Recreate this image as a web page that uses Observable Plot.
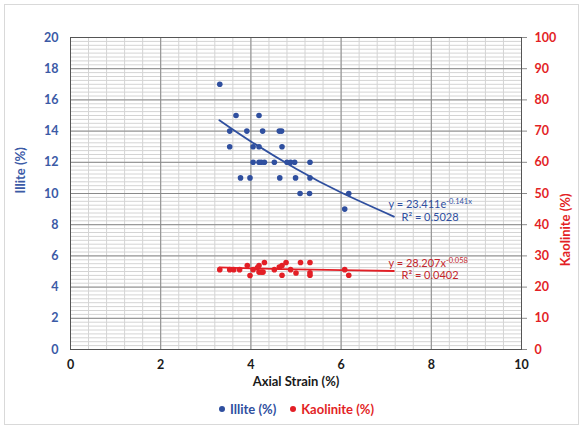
<!DOCTYPE html>
<html><head><meta charset="utf-8">
<script src="https://cdn.jsdelivr.net/npm/d3@7"></script>
<script src="https://cdn.jsdelivr.net/npm/@observablehq/plot@0.6"></script>
<style>
body{margin:0;background:#fff;font-family:Lato,"Open Sans",sans-serif;}
#wrap{position:relative;width:585px;height:430px;overflow:hidden;background:#fff;}
#border{position:absolute;left:4px;top:4px;width:575px;height:421px;border:1px solid #d9d9d9;box-sizing:border-box;}
#chart{position:absolute;left:0;top:0;}
#legend{position:absolute;top:401px;left:219px;font-size:13px;font-weight:bold;white-space:nowrap;}
#legend span{margin-right:14px;}
#legend .dot{display:inline-block;width:6px;height:6px;border-radius:50%;margin-right:5px;vertical-align:2px;}
</style>
</head><body>
<div id="wrap"><div id="border"></div><div id="chart"></div>
<div id="legend"><span style="color:#2f4f9f"><i class="dot" style="background:#2f4f9f"></i>Illite (%)</span><span style="color:#e31f26"><i class="dot" style="background:#e31f26"></i>Kaolinite (%)</span></div>
</div>
<script>
// Illite data (left axis)
const illiteX = [3.31,3.67,4.18,3.53,3.91,4.26,4.63,4.68,3.53,4.05,4.18,4.69,4.05,4.18,4.23,4.30,4.52,4.80,4.88,4.97,5.31,3.77,3.98,4.64,4.99,5.31,5.09,5.30,6.17,6.08];
const illiteY = [17,15,15,14,14,14,14,14,13,13,13,13,12,12,12,12,12,12,12,12,12,11,11,11,11,11,10,10,10,9];
// Kaolinite data (right axis, 0-100)
const kaoX = [3.31,3.53,3.62,3.75,3.92,3.98,4.05,4.14,4.18,4.18,4.23,4.27,4.30,4.52,4.63,4.69,4.69,4.78,4.88,5.00,5.10,5.31,5.31,5.31,6.08,6.17];
const kaoY = [25.6,25.6,25.6,25.6,26.9,23.7,25.6,26.2,26.9,24.8,24.8,24.8,27.9,25.6,26.4,26.9,23.8,27.9,25.6,24.5,27.9,27.9,24.6,23.8,25.6,23.8];
// Trendlines
const trendX = [3.3, 4, 5, 6, 7.17];
const illiteTrend = [14.7, 13.34, 11.59, 10.06, 8.52];
const kaoTrend = [26.32, 26.03, 25.69, 25.42, 25.16];
// Ticks
const xTicks = [0,2,4,6,8,10];
const yTicks = [0,2,4,6,8,10,12,14,16,18,20];
const kaoTickLabels = [0,10,20,30,40,50,60,70,80,90,100];

const xMinor = d3.range(0,26).map(i => i*0.4);
const yMinor = d3.range(0,81).map(i => i*0.25);
const ratio = 5; // right axis 100 <-> left 20

const blue = "#2f4f9f", red = "#e31f26";
const illite = illiteX.map((x,i) => ({x, y: illiteY[i]}));
const kao = kaoX.map((x,i) => ({x, y: kaoY[i]/ratio}));
const it = trendX.map((x,i) => ({x, y: illiteTrend[i]}));
const kt = trendX.map((x,i) => ({x, y: kaoTrend[i]/ratio}));

const plot = Plot.plot({
  width: 585, height: 395,
  marginTop: 37, marginLeft: 70, marginRight: 64, marginBottom: 46,
  x: {domain: [0,10]},
  y: {domain: [0,20]},
  style: {fontFamily: "Lato, 'Open Sans', sans-serif", fontSize: "12.5px", background: "transparent", overflow: "visible"},
  marks: [
    Plot.gridX({ticks: xMinor, stroke: "#d4d4d4", strokeOpacity: 1}),
    Plot.gridY({ticks: yMinor, stroke: "#d4d4d4", strokeOpacity: 1}),
    Plot.gridX({ticks: xTicks, stroke: "#8a8a8a", strokeOpacity: 1}),
    Plot.gridY({ticks: yTicks, stroke: "#8a8a8a", strokeOpacity: 1}),
    Plot.frame({stroke: "#555"}),
    Plot.axisX({ticks: xTicks, tickSize: 0, tickPadding: 11, fontWeight: "bold", fill: "#1a1a1a", label: null}),
    Plot.axisY({ticks: yTicks, tickSize: 0, tickPadding: 12, fontWeight: "bold", fill: "#3b5aa6", label: null}),
    Plot.axisY({ticks: yTicks, anchor: "right", tickSize: 5, tickPadding: 8, stroke: "#8a8a8a", fontWeight: "bold", fill: red, label: null, tickFormat: (d, i) => kaoTickLabels[i]}),
    Plot.line(it, {x: "x", y: "y", stroke: blue, strokeWidth: 1.8, curve: "natural"}),
    Plot.line(kt, {x: "x", y: "y", stroke: red, strokeWidth: 1.8, curve: "natural"}),
    Plot.dot(illite, {x: "x", y: "y", r: 2.8, fill: blue, stroke: "none"}),
    Plot.dot(kao, {x: "x", y: "y", r: 2.8, fill: red, stroke: "none"}),
    Plot.text(["y = 23.411e"], {frameAnchor: "top-left", dx: 318, dy: 163, textAnchor: "start", fill: blue, fontSize: 11}),
    Plot.text(["R² = 0.5028"], {frameAnchor: "top-left", dx: 331, dy: 176, textAnchor: "start", fill: blue, fontSize: 11}),
    Plot.text(["y = 28.207x"], {frameAnchor: "top-left", dx: 318, dy: 222, textAnchor: "start", fill: "#c4262c", fontSize: 11}),
    Plot.text(["R² = 0.0402"], {frameAnchor: "top-left", dx: 331, dy: 234, textAnchor: "start", fill: "#c4262c", fontSize: 11}),
    Plot.text(["Illite (%)"], {frameAnchor: "left", dx: -50, rotate: -90, fill: "#3b5aa6", fontWeight: "bold", fontSize: 13}),
    Plot.text(["Kaolinite (%)"], {frameAnchor: "right", dx: 44, rotate: -90, fill: red, fontWeight: "bold", fontSize: 13}),
    Plot.text(["Axial Strain (%)"], {frameAnchor: "bottom", dy: 36, fill: "#1a1a1a", fontWeight: "bold", fontSize: 13})
  ]
});
document.getElementById("chart").appendChild(plot);

function sup(base, s) {
  plot.querySelectorAll("text").forEach(t => {
    if (t.textContent === base) {
      const ts = document.createElementNS("http://www.w3.org/2000/svg", "tspan");
      ts.setAttribute("font-size", "7.5");
      ts.setAttribute("dy", "-4");
      ts.textContent = s;
      t.appendChild(ts);
    }
  });
}
sup("y = 23.411e", "-0.141x");
sup("y = 28.207x", "-0.058");
</script>
</body></html>
